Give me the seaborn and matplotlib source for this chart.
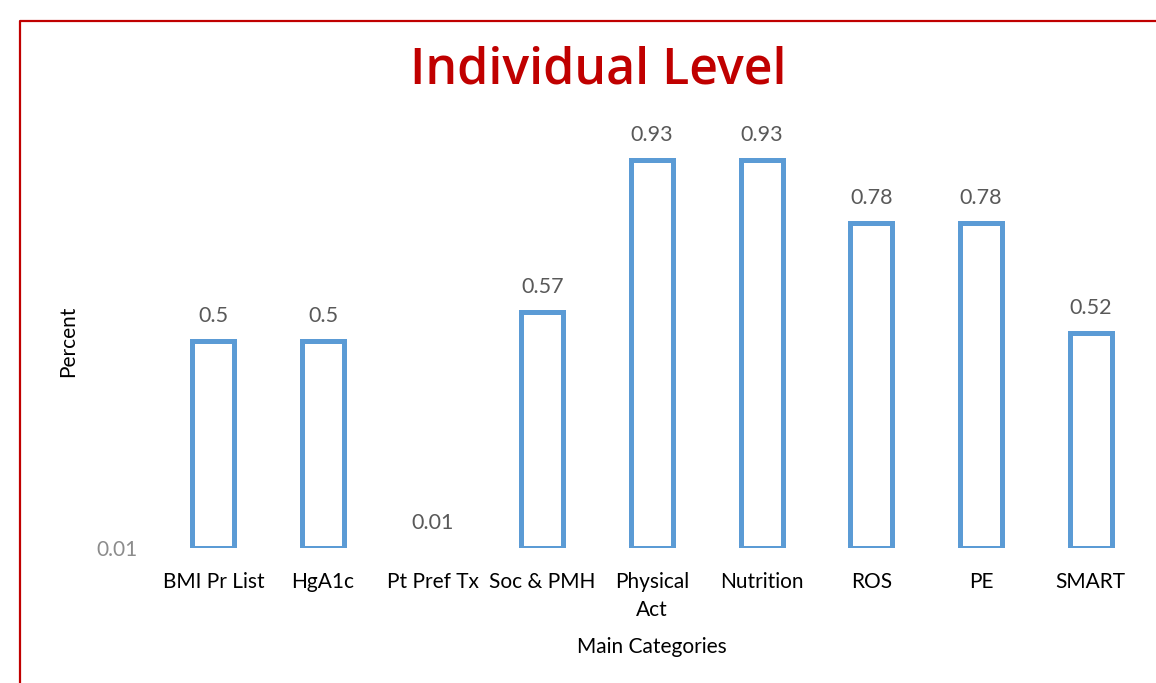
import matplotlib
matplotlib.use("Agg")
import matplotlib.pyplot as plt
from matplotlib.lines import Line2D
import seaborn as sns
import pandas as pd

categories = ["BMI Pr List", "HgA1c", "Pt Pref Tx", "Soc & PMH", "Physical\nAct",
              "Nutrition", "ROS", "PE", "SMART"]
values = [0.5, 0.5, 0.01, 0.57, 0.93, 0.93, 0.78, 0.78, 0.52]
value_labels = ["0.5", "0.5", "0.01", "0.57", "0.93", "0.93", "0.78", "0.78", "0.52"]
y_min = 0.01
y_max = 1.0

sns.set_theme(style="white")
plt.rcParams["font.family"] = ["Lato", "DejaVu Sans"]

df = pd.DataFrame({"Main Categories": categories, "Percent": values})

fig = plt.figure(figsize=(11.56, 6.83), dpi=100)
ax = fig.add_axes([158.6 / 1156, 1 - 548 / 683, (1145.4 - 158.6) / 1156, (548 - 130.5) / 683])

sns.barplot(data=df, x="Main Categories", y="Percent", ax=ax,
            color="white", edgecolor="#5B9BD5", linewidth=3.6, width=0.383,
            order=categories)

# bars start at the axis minimum (as in the original chart)
for p in ax.patches:
    h = p.get_height()
    p.set_y(y_min)
    p.set_height(h - y_min)
    if h - y_min <= 1e-9:
        p.set_edgecolor("none")

ax.set_ylim(y_min, y_max)
ax.set_xlim(-0.5, len(categories) - 0.5)
ax.set_yticks([y_min])
ax.set_yticklabels(["0.01"])
sns.despine(ax=ax, left=True, bottom=True)
ax.tick_params(axis="y", length=0, pad=15, labelsize=15, labelcolor="#8C8C8C")
ax.tick_params(axis="x", length=0, pad=17, labelsize=15, labelcolor="#000000")
for t in ax.get_xticklabels():
    t.set_linespacing(1.55)

ax.bar_label(ax.containers[0], labels=value_labels, padding=11, fontsize=15.5, color="#595959")

ax.set_xlabel("Main Categories", fontsize=15, color="#000000", labelpad=12)
ax.set_ylabel("Percent", fontsize=15, color="#000000")
ax.yaxis.set_label_coords(-80 / 986.8, 0.495)

fig.text(598.5 / 1156, 1 - 71 / 683, "Individual Level", ha="center", va="center",
         fontsize=36, fontweight="semibold", color="#C00000", family=["Open Sans", "DejaVu Sans"])

# chart frame (only top and left edges fall inside the picture)
fig.add_artist(Line2D([20 / 1156, 20 / 1156, 1.0], [0.0, 1 - 21 / 683, 1 - 21 / 683],
                      transform=fig.transFigure, color="#C00000", linewidth=1.6))

fig.savefig("out.png", dpi=100)
